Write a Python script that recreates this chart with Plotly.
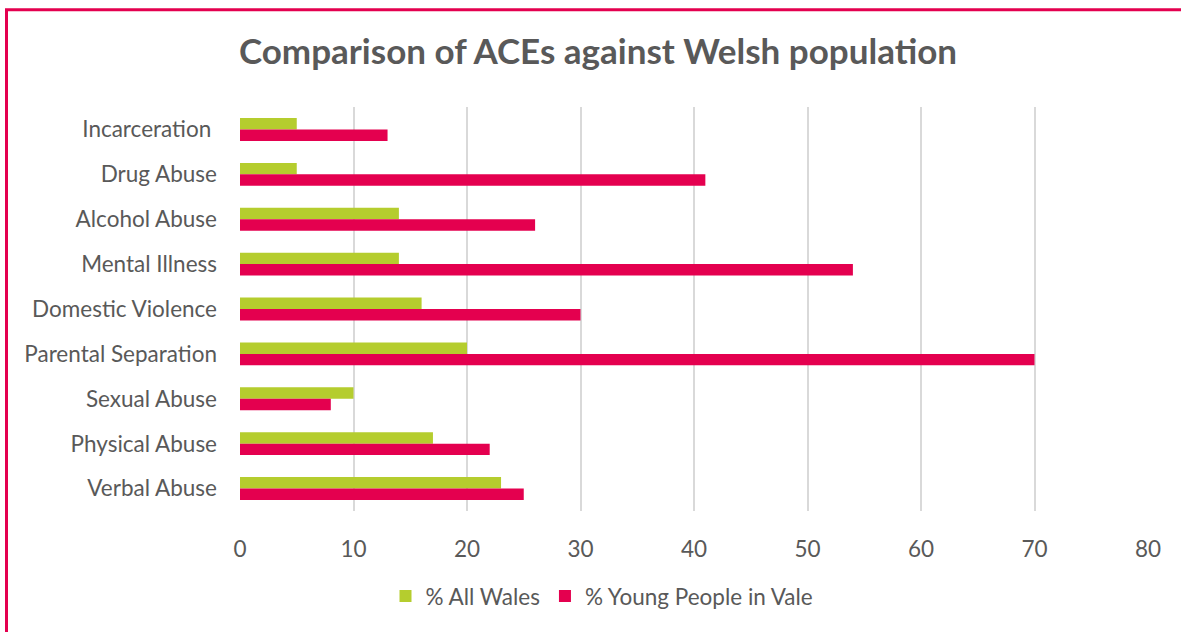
import plotly.graph_objects as go

categories = ["Incarceration ", "Drug Abuse", "Alcohol Abuse", "Mental Illness",
              "Domestic Violence", "Parental Separation", "Sexual Abuse",
              "Physical Abuse", "Verbal Abuse"]
all_wales = [5, 5, 14, 14, 16, 20, 10, 17, 23]
young_vale = [13, 41, 26, 54, 30, 70, 8, 22, 25]
x_ticks = [0, 10, 20, 30, 40, 50, 60, 70, 80]

GREEN = "#b5cd2e"
RED = "#e4004f"
TXT = "#595959"
FONT = "Lato"

W, H = 1181, 632
L, R, T, B = 240, 33, 106.5, 120.5
pw, ph = W - L - R, H - T - B

def px_x(p):
    return (p - L) / pw

def px_y(p):
    return (H - B - p) / ph

fig = go.Figure()
fig.add_trace(go.Bar(y=categories, x=all_wales, orientation="h", name="% All Wales",
                     marker=dict(color=GREEN, line=dict(width=0))))
fig.add_trace(go.Bar(y=categories, x=young_vale, orientation="h", name="% Young People in Vale",
                     marker=dict(color=RED, line=dict(width=0))))

fig.update_layout(
    width=W, height=H,
    margin=dict(l=L, r=R, t=T, b=B, autoexpand=False),
    paper_bgcolor="white", plot_bgcolor="white",
    barmode="group", bargap=0.49, bargroupgap=0,
    title=dict(text="<b>Comparison of ACEs against Welsh population</b>",
               x=598 / W, xref="container", xanchor="center", y=1 - 52 / H, yanchor="middle",
               font=dict(family=FONT, size=35, color=TXT)),
    font=dict(family=FONT, color=TXT),
    xaxis=dict(range=[0, 80], tickvals=x_ticks, showgrid=True, gridcolor="#d9d9d9",
               gridwidth=2, zeroline=False, showline=False, ticks="",
               tickfont=dict(family=FONT, size=22.5, color=TXT), ticklabelstandoff=22),
    yaxis=dict(categoryorder="array", categoryarray=categories, autorange="reversed",
               showgrid=False, zeroline=False, showline=False, ticks="",
               tickfont=dict(family=FONT, size=22.5, color=TXT), ticklabelstandoff=22),
    legend=dict(orientation="h", x=602 / W, xref="container", xanchor="center",
                y=px_y(597), yanchor="middle",
                font=dict(family=FONT, size=22.5, color=TXT), itemwidth=30,
                bgcolor="rgba(0,0,0,0)"),
    shapes=[dict(type="rect", xref="paper", yref="paper",
                 x0=px_x(6.5), x1=px_x(1195), y0=px_y(645), y1=px_y(9),
                 line=dict(color=RED, width=3), fillcolor="rgba(0,0,0,0)", layer="above")],
    showlegend=True,
)

fig.write_html("out.html")
